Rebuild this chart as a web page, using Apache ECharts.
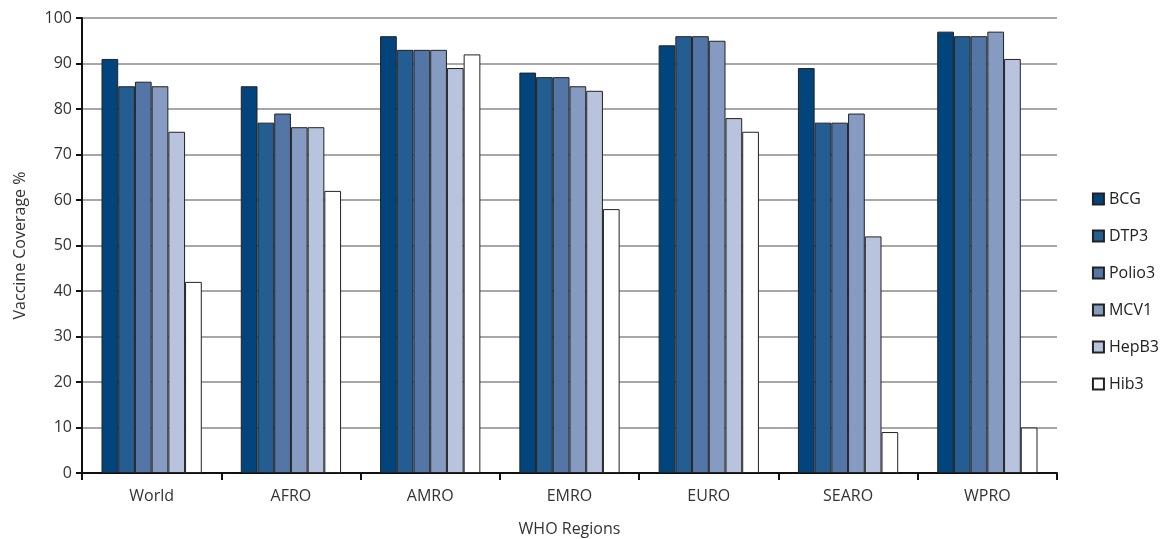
<!DOCTYPE html>
<html>
<head>
<meta charset="utf-8">
<script src="https://cdn.jsdelivr.net/npm/echarts@6/dist/echarts.min.js"></script>
<style>
  html, body { margin: 0; padding: 0; background: #fff; }
  #chart { width: 1168px; height: 539px; }
</style>
</head>
<body>
<div id="chart"></div>
<script>
var regions = ['World', 'AFRO', 'AMRO', 'EMRO', 'EURO', 'SEARO', 'WPRO']
var vaccines = ['BCG', 'DTP3', 'Polio3', 'MCV1', 'HepB3', 'Hib3']
var bcg    = [91, 85, 96, 88, 94, 89, 97]
var dtp3   = [85, 77, 93, 87, 96, 77, 96]
var polio3 = [86, 79, 93, 87, 96, 77, 96]
var mcv1   = [85, 76, 93, 85, 95, 79, 97]
var hepb3  = [75, 76, 89, 84, 78, 52, 91]
var hib3   = [42, 62, 92, 58, 75, 9, 10]
var colors = ['#02457c', '#235d92', '#5476a7', '#859bc1', '#b8c4dd', '#ffffff']

var seriesData = [bcg, dtp3, polio3, mcv1, hepb3, hib3]
var font = 'Open Sans'

var myChart = echarts.init(document.getElementById('chart'))
var option = {
  animation: false,
  textStyle: { fontFamily: font },
  grid: { left: 82, right: 111, top: 18, bottom: 66, outerBoundsMode: 'none' },
  legend: {
    orient: 'vertical',
    right: 4,
    top: 186,
    itemWidth: 11,
    itemHeight: 11,
    itemGap: 21,
    icon: 'rect',
    textStyle: { fontSize: 16, color: '#222', fontFamily: font },
    data: vaccines
  },
  xAxis: {
    type: 'category',
    data: regions,
    name: 'WHO Regions',
    nameLocation: 'middle',
    nameGap: 48,
    nameTextStyle: { fontSize: 16, color: '#333' },
    axisLine: { lineStyle: { color: '#111', width: 2 } },
    axisTick: { show: true, length: 7, lineStyle: { color: '#111', width: 2 } },
    axisLabel: { fontSize: 16, color: '#333', margin: 15 }
  },
  yAxis: {
    type: 'value',
    min: 0,
    max: 100,
    interval: 10,
    name: 'Vaccine Coverage %',
    nameLocation: 'middle',
    nameGap: 54,
    nameTextStyle: { fontSize: 16, color: '#333' },
    axisLine: { show: true, lineStyle: { color: '#111', width: 2 } },
    axisTick: { show: true, length: 6, lineStyle: { color: '#111', width: 2 } },
    axisLabel: { fontSize: 16, color: '#333', margin: 10 },
    splitLine: { lineStyle: { color: '#8a8a8a', width: 1.5 } }
  },
  series: vaccines.map(function (name, i) {
    return {
      name: name,
      type: 'bar',
      data: seriesData[i],
      barGap: '0%',
      barCategoryGap: '28%',
      itemStyle: { color: colors[i], borderColor: '#222', borderWidth: 1 }
    }
  })
}
myChart.setOption(option)
</script>
</body>
</html>
